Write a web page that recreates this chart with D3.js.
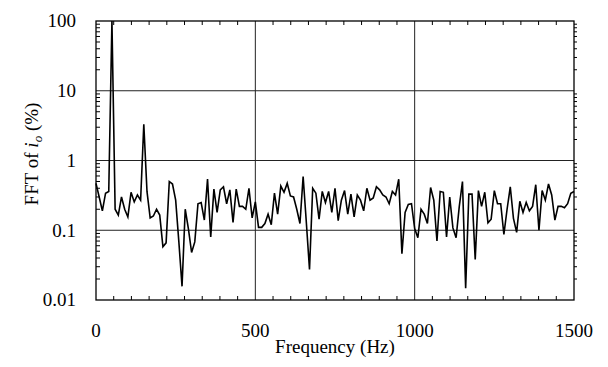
<!DOCTYPE html>
<html>
<head>
<meta charset="utf-8">
<script src="https://cdn.jsdelivr.net/npm/d3@7"></script>
<style>
  html, body { margin: 0; padding: 0; background: #fff; }
  text { font-family: "Liberation Serif", "Times New Roman", serif; fill: #000; }
</style>
</head>
<body>
<script>
// spectrum sampled every 10 Hz, 0 .. 1500 Hz
const frequencies = d3.range(0, 1501, 10);
const fftPct = [
  0.47, 0.30, 0.19, 0.34, 0.36, 100, 0.20, 0.165, 0.30, 0.20,
  0.155, 0.35, 0.255, 0.32, 0.27, 3.3, 0.36, 0.15, 0.16, 0.20,
  0.165, 0.058, 0.066, 0.50, 0.46, 0.27, 0.068, 0.0157, 0.20, 0.105,
  0.048, 0.068, 0.24, 0.25, 0.14, 0.54, 0.08, 0.39, 0.18, 0.38,
  0.42, 0.24, 0.38, 0.13, 0.39, 0.22, 0.22, 0.20, 0.40, 0.15,
  0.255, 0.11, 0.11, 0.125, 0.17, 0.12, 0.34, 0.17, 0.43, 0.35,
  0.47, 0.31, 0.30, 0.20, 0.125, 0.59, 0.13, 0.0274, 0.40, 0.34,
  0.144, 0.36, 0.25, 0.36, 0.18, 0.40, 0.137, 0.27, 0.37, 0.17,
  0.33, 0.155, 0.32, 0.27, 0.19, 0.40, 0.27, 0.29, 0.42, 0.38,
  0.32, 0.30, 0.24, 0.36, 0.32, 0.54, 0.046, 0.18, 0.235, 0.24,
  0.106, 0.078, 0.20, 0.17, 0.125, 0.41, 0.27, 0.07, 0.36, 0.35,
  0.08, 0.30, 0.108, 0.078, 0.22, 0.50, 0.0147, 0.33, 0.33, 0.038,
  0.37, 0.22, 0.35, 0.128, 0.144, 0.37, 0.24, 0.24, 0.087, 0.20,
  0.42, 0.148, 0.093, 0.26, 0.18, 0.25, 0.19, 0.22, 0.45, 0.10,
  0.37, 0.27, 0.46, 0.32, 0.14, 0.22, 0.22, 0.21, 0.24, 0.34,
  0.36
];
const xTicks = [0, 500, 1000, 1500];
const yTicks = [0.01, 0.1, 1, 10, 100];
const yTickLabels = ['0.01', '0.1', '1', '10', '100'];

const svgDims = { width: 608, height: 367 };
const margin = { top: 21, right: 34, bottom: 67, left: 96 };
const graphWidth = svgDims.width - margin.left - margin.right;
const graphHeight = svgDims.height - margin.top - margin.bottom;

const svg = d3.select('body').append('svg')
  .attr('width', svgDims.width)
  .attr('height', svgDims.height);

const graph = svg.append('g')
  .attr('transform', `translate(${margin.left},${margin.top})`);

const x = d3.scaleLinear().domain([0, 1500]).range([0, graphWidth]);
const y = d3.scaleLog().domain([0.01, 100]).range([graphHeight, 0]);

// gridlines
graph.append('g')
  .selectAll('line.hgrid')
  .data(yTicks.slice(1, -1))
  .enter().append('line')
  .attr('x1', 0).attr('x2', graphWidth)
  .attr('y1', d => y(d)).attr('y2', d => y(d))
  .attr('stroke', '#222').attr('stroke-width', 1);

graph.append('g')
  .selectAll('line.vgrid')
  .data(xTicks.slice(1, -1))
  .enter().append('line')
  .attr('x1', d => x(d)).attr('x2', d => x(d))
  .attr('y1', 0).attr('y2', graphHeight)
  .attr('stroke', '#222').attr('stroke-width', 1);

// minor ticks: x every 1/9 of a major interval, y log minors
const xMinor = [];
for (let k = 0; k < xTicks.length - 1; k++) {
  for (let j = 1; j < 9; j++) xMinor.push(xTicks[k] + j * (xTicks[k + 1] - xTicks[k]) / 9);
}
const yMinor = [];
yTicks.slice(0, -1).forEach(d => { for (let j = 2; j < 10; j++) yMinor.push(d * j); });

const ticks = graph.append('g').attr('stroke', '#000').attr('stroke-width', 1);
ticks.selectAll('line.xb').data(xMinor).enter().append('line')
  .attr('x1', d => x(d)).attr('x2', d => x(d))
  .attr('y1', graphHeight).attr('y2', graphHeight - 4);
ticks.selectAll('line.xt').data(xMinor).enter().append('line')
  .attr('x1', d => x(d)).attr('x2', d => x(d))
  .attr('y1', 0).attr('y2', 4);
ticks.selectAll('line.yl').data(yMinor).enter().append('line')
  .attr('x1', 0).attr('x2', 4)
  .attr('y1', d => y(d)).attr('y2', d => y(d));
ticks.selectAll('line.yr').data(yMinor).enter().append('line')
  .attr('x1', graphWidth).attr('x2', graphWidth + 3)
  .attr('y1', d => y(d)).attr('y2', d => y(d));

// data line
const line = d3.line()
  .x((d, i) => x(frequencies[i]))
  .y(d => y(d));

graph.append('path')
  .datum(fftPct)
  .attr('d', line)
  .attr('fill', 'none')
  .attr('stroke', '#000')
  .attr('stroke-width', 1.6)
  .attr('stroke-linejoin', 'miter');

// frame
graph.append('rect')
  .attr('width', graphWidth)
  .attr('height', graphHeight)
  .attr('fill', 'none')
  .attr('stroke', '#000')
  .attr('stroke-width', 1.3);

// tick labels
graph.append('g')
  .selectAll('text')
  .data(yTicks)
  .enter().append('text')
  .attr('x', -20)
  .attr('y', d => y(d))
  .attr('dy', '0.34em')
  .attr('text-anchor', 'end')
  .style('font-size', '19px')
  .text((d, i) => yTickLabels[i]);

graph.append('g')
  .selectAll('text')
  .data(xTicks)
  .enter().append('text')
  .attr('x', d => x(d))
  .attr('y', graphHeight + 37)
  .attr('text-anchor', 'middle')
  .style('font-size', '19px')
  .text(d => d);

// axis titles
svg.append('text')
  .attr('x', margin.left + graphWidth / 2)
  .attr('y', 353)
  .attr('text-anchor', 'middle')
  .style('font-size', '19px')
  .text('Frequency (Hz)');

const yTitle = svg.append('text')
  .attr('transform', 'translate(38,154) rotate(-90)')
  .attr('text-anchor', 'middle')
  .style('font-size', '19px');
yTitle.append('tspan').text('FFT of ');
yTitle.append('tspan').style('font-style', 'italic').text('i');
yTitle.append('tspan').style('font-style', 'italic').style('font-size', '13px')
  .attr('dy', 4).text('o');
yTitle.append('tspan').attr('dy', -4).text(' (%)');
</script>
</body>
</html>
